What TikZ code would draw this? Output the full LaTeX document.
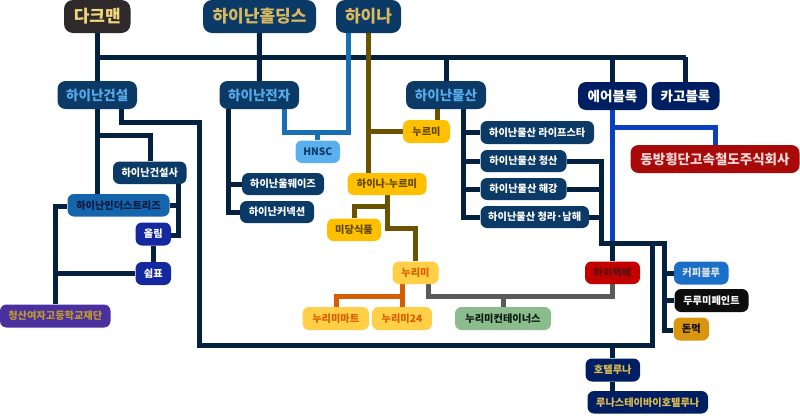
\documentclass[tikz,border=0pt]{standalone}
\usepackage{fontspec}
\setmainfont{Noto Sans CJK KR}
\usetikzlibrary{calc}
\pgfdeclarelayer{bg}
\pgfsetlayers{bg,main}
\definecolor{navy}{HTML}{04223F}
\definecolor{boxblue}{HTML}{0B3A66}
\definecolor{sky}{HTML}{5AA9E8}
\definecolor{goldt}{HTML}{D9B860}
\definecolor{hnblue}{HTML}{1A6FB0}
\definecolor{brownl}{HTML}{6B5200}
\definecolor{blueb}{HTML}{0A3FBF}
\definecolor{orangel}{HTML}{D55F00}
\definecolor{greyl}{HTML}{5A5A5A}
\definecolor{air}{HTML}{001F63}
\definecolor{cDark}{HTML}{2E2A2B}
\definecolor{cDarkT}{HTML}{F0D67C}
\definecolor{cRed}{HTML}{A80A0A}
\definecolor{cRedT}{HTML}{F5D8D8}
\definecolor{cSky}{HTML}{5AB0EE}
\definecolor{cYel}{HTML}{FFC000}
\definecolor{cYelT}{HTML}{5C4500}
\definecolor{cYel2}{HTML}{FFCF47}
\definecolor{cOl}{HTML}{1428A0}
\definecolor{cInd}{HTML}{1565AD}
\definecolor{cIndT}{HTML}{08183A}
\definecolor{cPur}{HTML}{4A2F9E}
\definecolor{cPurT}{HTML}{C09A30}
\definecolor{cGrn}{HTML}{8CBB8E}
\definecolor{cGrnT}{HTML}{0A1A10}
\definecolor{cHt}{HTML}{C30000}
\definecolor{cHtT}{HTML}{5A1010}
\definecolor{cCf}{HTML}{1A6FC8}
\definecolor{cCfT}{HTML}{E4E4E4}
\definecolor{cBk}{HTML}{0D0D0D}
\definecolor{cDm}{HTML}{D9950F}
\definecolor{cHoT}{HTML}{E0BC50}
\tikzset{
 x=1pt,y=-1pt,
 lnavy/.style={draw=navy,line width=5pt,line join=miter},
 lblue/.style={draw=hnblue,line width=5pt},
 lbrown/.style={draw=brownl,line width=5pt},
 lbb/.style={draw=blueb,line width=5pt},
 lor/.style={draw=orangel,line width=5pt},
 lgr/.style={draw=greyl,line width=5pt},
 bb/.style={rectangle,rounded corners=6.5pt,inner sep=0pt,font=\bfseries\fontsize{10.2pt}{12pt}\selectfont},
 big/.style={bb,rounded corners=9pt,font=\bfseries\fontsize{17pt}{20pt}\selectfont},
 mid/.style={bb,rounded corners=8pt,font=\bfseries\fontsize{13.5pt}{16pt}\selectfont},
 navyb/.style={fill=boxblue,text=white},
 skyb/.style={mid,fill=boxblue,text=sky},
 goldb/.style={big,fill=boxblue,text=goldt},
 airb/.style={mid,fill=air,text=white},
 yel/.style={fill=cYel,text=cYelT},
 yel2/.style={fill=cYel2,text=orangel},
 blu2/.style={fill=cOl,text=white},
}
\newcommand{\bxn}[7]{%
 \node[bb,#6,minimum width=#4pt-#2pt,minimum height=#5pt-#3pt] (#1) at ({(#2+#4)/2},{(#3+#5)/2}) {#7};}
\begin{document}
\begin{tikzpicture}
\useasboundingbox (0,0) rectangle (800,415);
% nodes
\bxn{dark}{64}{0}{130.5}{33}{big,fill=cDark,text=cDarkT}{다크맨}
\bxn{hold}{203}{0}{316}{33}{goldb}{하이난홀딩스}
\bxn{hina}{336}{0}{401}{33}{goldb}{하이나}
\bxn{gs}{57.5}{81}{137}{109}{skyb}{하이난건설}
\bxn{jj}{219.5}{81}{299}{109}{skyb}{하이난전자}
\bxn{ms}{406}{81}{486}{109}{skyb}{하이난물산}
\bxn{air}{578}{82}{647}{110}{airb}{에어블록}
\bxn{cargo}{651.5}{82}{719.5}{110}{airb}{카고블록}
\bxn{dong}{630.5}{145}{799.5}{173}{mid,fill=cRed,text=cRedT}{동방횡단고속철도주식회사}
\bxn{hnsc}{295.5}{140.5}{340}{163}{fill=cSky,text=boxblue}{HNSC}
\bxn{nur}{403}{120}{450}{143}{yel}{누르미}
\bxn{ml}{480.5}{121}{594}{144}{navyb}{하이난물산 라이프스타}
\bxn{mc}{480.5}{150}{566.5}{172}{navyb}{하이난물산 청산}
\bxn{mh}{480.5}{178}{566.5}{200}{navyb}{하이난물산 해강}
\bxn{mn}{480.5}{206}{589}{228}{navyb}{하이난물산 청라·남해}
\bxn{hn}{347.5}{173}{426.5}{195}{yel}{하이나-누르미}
\bxn{gsa}{113}{161.5}{186.5}{184}{navyb}{하이난건설사}
\bxn{ind}{67.5}{194}{169.5}{216.5}{fill=cInd,text=cIndT}{하이난인더스트리즈}
\bxn{ol}{135.5}{222.5}{171}{245.5}{blu2}{올림}
\bxn{sw}{135.5}{262}{171}{285}{blu2}{쉼표}
\bxn{cs}{0}{304.5}{110.5}{327.5}{fill=cPur,text=cPurT}{청산여자고등학교재단}
\bxn{jw}{242}{173}{324}{195}{navyb}{하이난울웨이즈}
\bxn{jc}{240}{201}{314}{223}{navyb}{하이난커넥션}
\bxn{md}{327}{218.5}{381}{241}{yel}{미당식품}
\bxn{nr}{392.5}{261.5}{438.5}{284}{yel2}{누리미}
\bxn{nm}{302.5}{307}{369}{330}{yel2}{누리미마트}
\bxn{n24}{372}{307}{432}{330}{yel2}{누리미24}
\bxn{nc}{455}{307}{551}{330}{fill=cGrn,text=cGrnT}{누리미컨테이너스}
\bxn{ht}{585}{261.5}{640}{284}{fill=cHt,text=cHtT}{하이택배}
\bxn{cf}{674}{261.5}{728.5}{284.5}{fill=cCf,text=cCfT}{커피블루}
\bxn{dr}{674.5}{289}{748.5}{312}{fill=cBk,text=white}{두루미페인트}
\bxn{dm}{673.5}{317.5}{709}{340.5}{fill=cDm,text=cBk}{돈먹}
\bxn{ho}{585.5}{358.5}{640}{381.5}{fill=air,text=cHoT}{호텔루나}
\bxn{lu}{587.5}{391}{708}{413.5}{fill=air,text=cHoT}{루나스테이바이호텔루나}
% junctions
\coordinate (busL) at (97,57); \coordinate (busR) at (685.5,57);
\coordinate (a1) at (348,33); \coordinate (a2) at (348,132); \coordinate (a3) at (284.5,132); \coordinate (a4) at (284.5,109);
\coordinate (b1) at (368.5,33); \coordinate (b2) at (368.5,131.5); \coordinate (b3) at (437.5,109); \coordinate (b4) at (437.5,120);
\coordinate (c1) at (387,195); \coordinate (c2) at (387,228); \coordinate (c3) at (415,228); \coordinate (c4) at (387,206.5); \coordinate (c5) at (354,206.5);
\coordinate (d1) at (463,109); \coordinate (d2) at (463,217);
\coordinate (e1) at (612.5,127); \coordinate (e2) at (715,127); \coordinate (e3) at (612.5,243.5);
\coordinate (f1) at (601,161); \coordinate (f2) at (601,243.5); \coordinate (f3) at (664,243.5); \coordinate (f4) at (664,330);
\coordinate (g1) at (652,243.5); \coordinate (g2) at (652,345.5); \coordinate (g3) at (199.5,345.5); \coordinate (g4) at (199.5,122); \coordinate (g5) at (121,122); \coordinate (g6) at (121,109);
\coordinate (h1) at (612.5,296); \coordinate (h2) at (428,296); \coordinate (h3) at (428,284); \coordinate (h4) at (503,296);
\coordinate (i1) at (402,296); \coordinate (i2) at (336,296);
\coordinate (j1) at (97,135); \coordinate (j2) at (150,135);
\coordinate (k1) at (178,184); \coordinate (k2) at (178,235); \coordinate (k3) at (178,205);
\coordinate (l1) at (55.5,206);
\coordinate (m1) at (228.5,109); \coordinate (m2) at (228.5,212);
\begin{pgfonlayer}{bg}
\draw[lnavy] (busL) -- (busR);
\draw[lnavy] (dark.south) -- (gs.north);
\draw[lnavy] (hold.south) -- (jj.north);
\draw[lnavy] (ms.north) -- (ms.north |- busL);
\draw[lnavy] (air.north) -- (air.north |- busL);
\draw[lnavy] (cargo.north) -- (cargo.north |- busL);
% hina
\draw[lblue] (a1) -- (a2) -- (a3) -- (a4);
\draw[lblue] (hnsc.north) -- (hnsc.north |- a2);
\draw[lbrown] (b1) -- (hn.north -| b1);
\draw[lbrown] (b2) -- (b2 -| nur.west);
\draw[lbrown] (b3) -- (b4);
\draw[lbrown] (c1) -- (c2) -- (c3) -- (nr.north -| c3);
\draw[lbrown] (c4) -- (c5) -- (md.north -| c5);
% mulsan
\draw[lnavy] (d1) -- (d2) -- (mn.west |- d2);
\draw[lnavy] (d1 |- ml.west) -- (ml.west);
\draw[lnavy] (d1 |- mc.west) -- (mc.west);
\draw[lnavy] (d1 |- mh.west) -- (mh.west);
% air
\draw[lbb] (air.south) -- (e3);
\draw[lbb] (e1) -- (e2) -- (dong.north -| e2);
% right bus
\draw[lnavy] (mc.east) -- (f1) -- (f2) -- (f3) -- (f4) -- (dm.west |- f4);
\draw[lnavy] (mh.east) -- (mh.east -| f1);
\draw[lnavy] (mn.east) -- (mn.east -| f1);
\draw[lnavy] (e3) -- (ht.north);
\draw[lnavy] (f3 |- cf.west) -- (cf.west);
\draw[lnavy] (f3 |- dr.west) -- (dr.west);
\draw[lnavy] (g1) -- (g2) -- (g3) -- (g4) -- (g5) -- (g6);
\draw[lnavy] (ho.north |- g2) -- (ho.north);
\draw[lnavy] (ho.south) -- (ho.south |- lu.north);
% grey, orange
\draw[lgr] (ht.south) -- (h1) -- (h2) -- (h3);
\draw[lgr] (h4) -- (nc.north -| h4);
\draw[lor] (i1 |- nr.south) -- (i1 |- n24.north);
\draw[lor] (i1) -- (i2) -- (i2 |- nm.north);
% geonseol
\draw[lnavy] (gs.south) -- (ind.north -| gs.south);
\draw[lnavy] (j1) -- (j2) -- (gsa.north -| j2);
\draw[lnavy] (k1) -- (k2) -- (ol.east |- k2);
\draw[lnavy] (ind.east |- k3) -- (k3);
\draw[lnavy] (ind.west |- l1) -- (l1) -- (cs.north -| l1);
\draw[lnavy] (sw.west) -- (sw.west -| l1);
\draw[lnavy] (ol.south) -- (sw.north);
% jeonja
\draw[lnavy] (m1) -- (m2) -- (jc.west |- m2);
\draw[lnavy] (m1 |- jw.west) -- (jw.west);
\end{pgfonlayer}
\end{tikzpicture}
\end{document}
